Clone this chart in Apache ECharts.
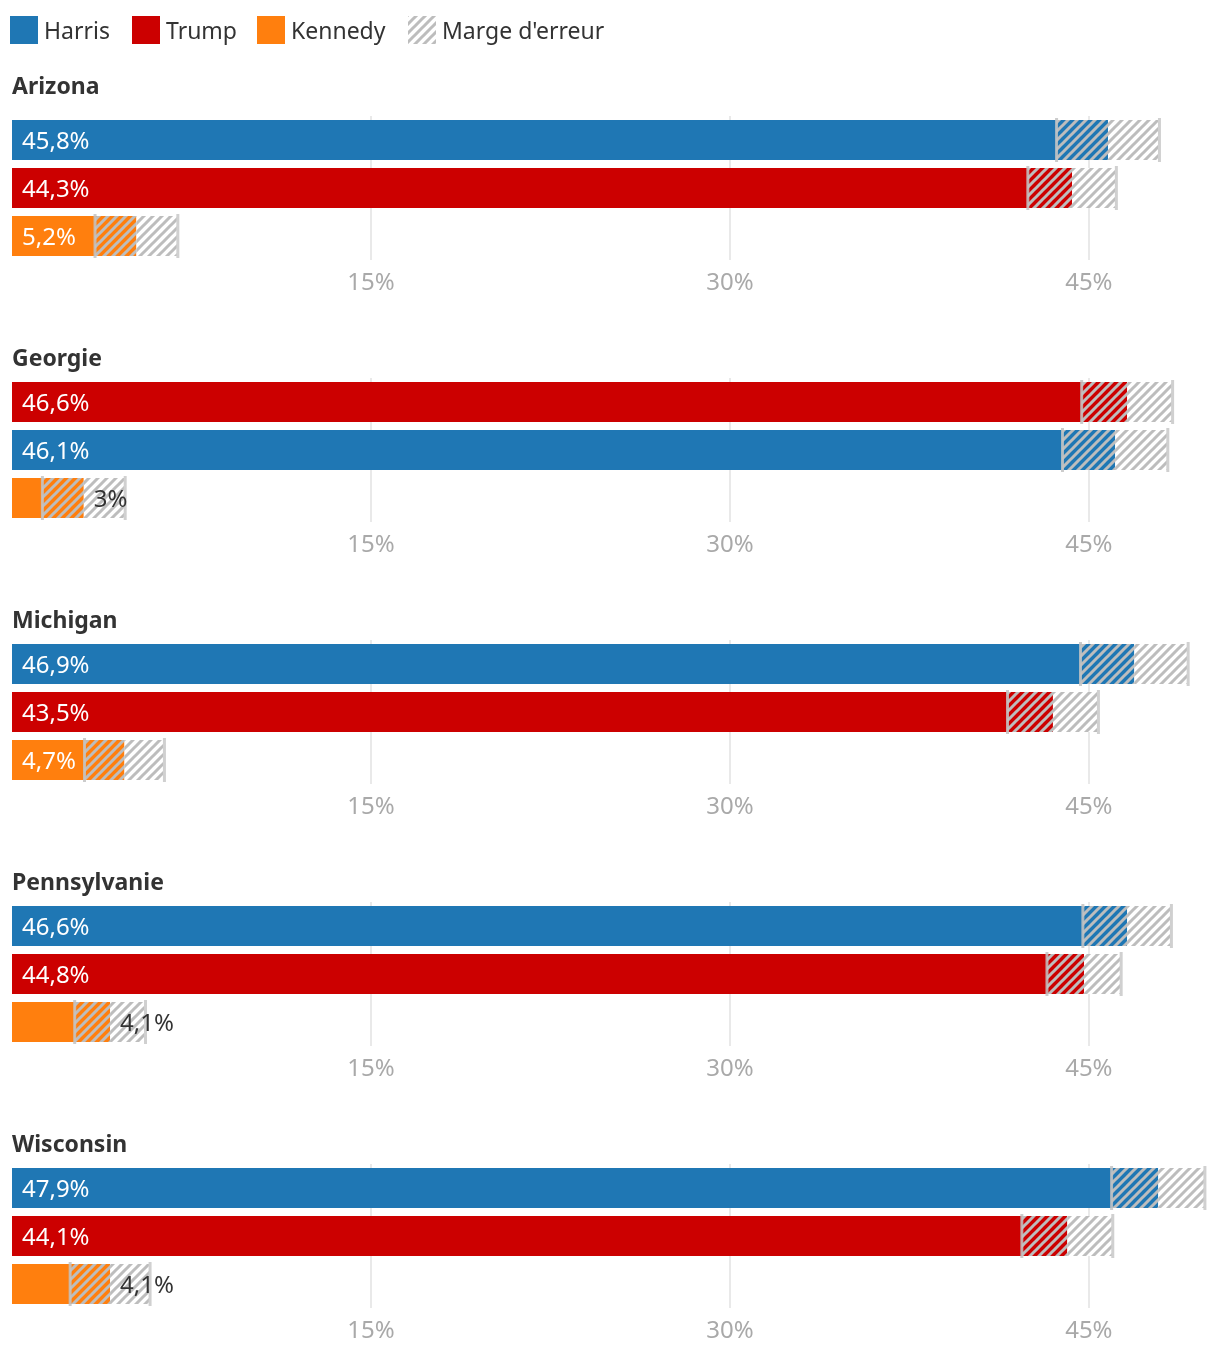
<!DOCTYPE html>
<html>
<head>
<meta charset="utf-8">
<script src="https://cdn.jsdelivr.net/npm/echarts@6/dist/echarts.min.js"></script>
<style>
html,body{margin:0;padding:0;background:#fff;}
#chart{width:1220px;height:1352px;}
</style>
</head>
<body>
<div id="chart"></div>
<script>
// ---------- DATA ----------
const states = ['Arizona', 'Georgie', 'Michigan', 'Pennsylvanie', 'Wisconsin'];
const candidates = ['Harris', 'Trump', 'Kennedy'];
// order of the three bars (top to bottom) in each state panel
const barOrder = [
  ['Harris', 'Trump', 'Kennedy'],
  ['Trump', 'Harris', 'Kennedy'],
  ['Harris', 'Trump', 'Kennedy'],
  ['Harris', 'Trump', 'Kennedy'],
  ['Harris', 'Trump', 'Kennedy']
];
const harrisValues = [45.8, 46.1, 46.9, 46.6, 47.9];
const trumpValues = [44.3, 46.6, 43.5, 44.8, 44.1];
const kennedyValues = [5.2, 3.0, 4.7, 4.1, 4.1];
const harrisMoe = [2.15, 2.2, 2.25, 1.85, 1.95];
const trumpMoe = [1.85, 1.9, 1.9, 1.55, 1.9];
const kennedyMoe = [1.73, 1.73, 1.67, 1.48, 1.67];
const axisMax = 50;
const tickInterval = 15;
const legendLabels = ['Harris', 'Trump', 'Kennedy', "Marge d'erreur"];

// ---------- STYLE ----------
const colors = { Harris: '#1f77b4', Trump: '#cc0000', Kennedy: '#ff7f0e' };
const FONT = '"Noto Sans", "Open Sans", sans-serif';
const HATCH = '#bdbdbd';

function makePattern(bg) {
  const s = 9;
  const c = document.createElement('canvas');
  c.width = s; c.height = s;
  const ctx = c.getContext('2d');
  ctx.fillStyle = bg;
  ctx.fillRect(0, 0, s, s);
  ctx.strokeStyle = HATCH;
  ctx.lineWidth = 3;
  ctx.beginPath();
  ctx.moveTo(-2, s + 2); ctx.lineTo(s + 2, -2);
  ctx.moveTo(-s - 2, s + 2); ctx.lineTo(2, -2);
  ctx.moveTo(s - 2, s + 2); ctx.lineTo(2 * s + 2, -2);
  ctx.stroke();
  return { image: c, repeat: 'repeat' };
}
const patterns = {
  Harris: makePattern(colors.Harris),
  Trump: makePattern(colors.Trump),
  Kennedy: makePattern(colors.Kennedy),
  white: makePattern('#ffffff')
};

const valuesBy = { Harris: harrisValues, Trump: trumpValues, Kennedy: kennedyValues };
const moeBy = { Harris: harrisMoe, Trump: trumpMoe, Kennedy: kennedyMoe };

const PANEL_STEP = 262;
const GRID_TOP0 = 116;
const titleY = [87, 359, 621, 883, 1145];

const grids = [], xAxes = [], yAxes = [], series = [], graphics = [];

states.forEach((st, i) => {
  grids.push({ left: 12, right: 11.5, top: GRID_TOP0 + PANEL_STEP * i, height: 144, containLabel: false });
  xAxes.push({
    type: 'value', gridIndex: i, min: 0, max: axisMax, interval: tickInterval,
    axisLine: { show: false }, axisTick: { show: false },
    splitLine: { show: true, showMinLine: false, showMaxLine: false, lineStyle: { color: '#e2e2e2', width: 1.5 } },
    axisLabel: {
      color: '#a9a9a9', fontSize: 24, fontFamily: FONT, margin: 11,
      formatter: v => (v > 0 && v % tickInterval === 0) ? v + '%' : ''
    }
  });
  yAxes.push({
    type: 'category', gridIndex: i, inverse: true, data: barOrder[i],
    show: false
  });
  const data = barOrder[i].map((cand, r) => ({
    value: [valuesBy[cand][i], moeBy[cand][i], r],
    cand: cand
  }));
  series.push({
    type: 'custom', xAxisIndex: i, yAxisIndex: i, data: data,
    clip: false,
    renderItem: function (params, api) {
      const d = data[params.dataIndex];
      const cand = d.cand;
      const v = api.value(0), m = api.value(1), r = api.value(2);
      const c0 = api.coord([0, r]);
      const band = api.size([0, 1])[1];
      const h = band * 40 / 48;
      const yTop = c0[1] - h / 2;
      const x0 = c0[0];
      const xl = api.coord([v - m, r])[0];
      const xv = api.coord([v, r])[0];
      const xh = api.coord([v + m, r])[0];
      const label = String(v).replace('.', ',') + '%';
      const inside = (xl - x0) >= 68;
      const children = [
        { type: 'rect', shape: { x: x0, y: yTop, width: xl - x0, height: h }, style: { fill: colors[cand] } },
        { type: 'rect', shape: { x: xl, y: yTop, width: xv - xl, height: h }, style: { fill: patterns[cand] } },
        { type: 'rect', shape: { x: xv, y: yTop, width: xh - xv, height: h }, style: { fill: patterns.white } },
        { type: 'rect', shape: { x: xl - 1.5, y: yTop - 2, width: 3, height: h + 4 }, style: { fill: 'rgba(195,195,195,0.85)' } },
        { type: 'rect', shape: { x: xh - 1.5, y: yTop - 2, width: 3, height: h + 4 }, style: { fill: '#d0d0d0' } },
        {
          type: 'text',
          style: {
            text: label, x: inside ? x0 + 10 : xv + 10, y: c0[1] + 2,
            fill: inside ? '#ffffff' : '#333333',
            font: '24px ' + FONT, verticalAlign: 'middle', align: 'left'
          }
        }
      ];
      return { type: 'group', children: children };
    }
  });
  graphics.push({
    type: 'text', x: 12, y: titleY[i],
    style: { text: st, fill: '#333333', font: 'bold 23px ' + FONT, verticalAlign: 'middle' }
  });
});

// legend
const legendX = [10, 132, 257, 408];
legendLabels.forEach((lab, k) => {
  const fill = k < 3 ? colors[candidates[k]] : patterns.white;
  graphics.push({ type: 'rect', shape: { x: legendX[k], y: 16, width: 28, height: 28 }, style: { fill: fill } });
  graphics.push({
    type: 'text', x: legendX[k] + 34, y: 32,
    style: { text: lab, fill: '#333333', font: '23px ' + FONT, verticalAlign: 'middle' }
  });
});

const chart = echarts.init(document.getElementById('chart'), null, { renderer: 'canvas' });
chart.setOption({
  animation: false,
  backgroundColor: '#ffffff',
  grid: grids,
  xAxis: xAxes,
  yAxis: yAxes,
  series: series,
  graphic: graphics
});
</script>
</body>
</html>
